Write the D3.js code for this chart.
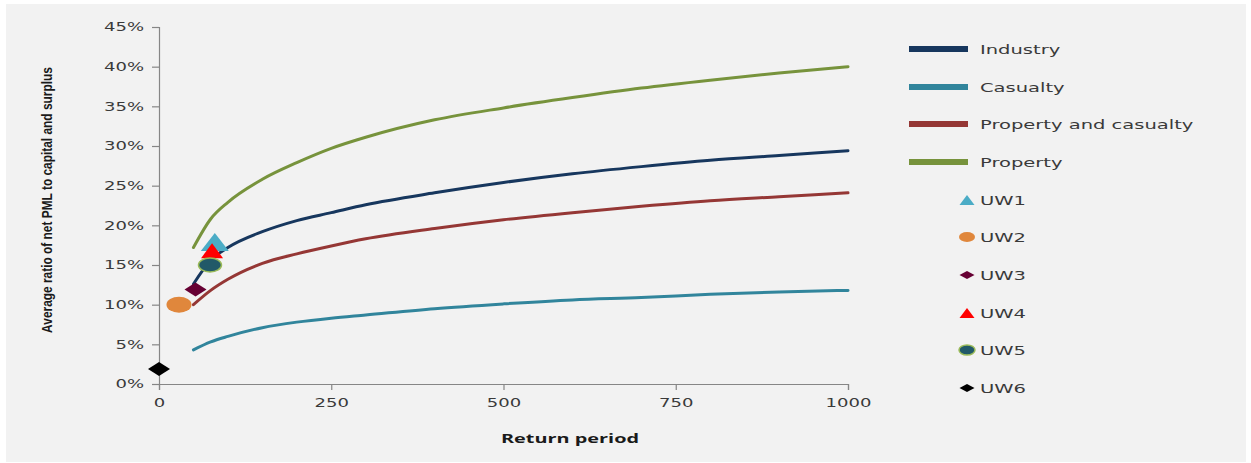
<!DOCTYPE html>
<html>
<head>
<meta charset="utf-8">
<script src="https://cdn.jsdelivr.net/npm/d3@7"></script>
<style>
  html, body { margin: 0; padding: 0; background: #ffffff; }
  svg { display: block; }
</style>
</head>
<body>
<svg id="chart" width="1251" height="463"></svg>
<script>
// ---------- DATA ----------
const returnPeriods = [50, 75, 100, 150, 200, 250, 300, 400, 500, 600, 700, 800, 900, 1000];
const industry      = [12.6, 15.6, 17.2, 19.2, 20.6, 21.6, 22.6, 24.1, 25.4, 26.5, 27.4, 28.2, 28.8, 29.4];
const casualty      = [4.3, 5.3, 6.0, 7.1, 7.8, 8.3, 8.7, 9.5, 10.1, 10.6, 10.9, 11.3, 11.6, 11.8];
const propertyCas   = [10.0, 11.8, 13.2, 15.2, 16.4, 17.4, 18.3, 19.6, 20.7, 21.6, 22.4, 23.1, 23.6, 24.1];
const property      = [17.2, 20.8, 22.9, 25.8, 27.9, 29.7, 31.1, 33.3, 34.8, 36.1, 37.3, 38.3, 39.2, 40.0];

const lineNames  = ["Industry", "Casualty", "Property and casualty", "Property"];
const lineValues = [industry, casualty, propertyCas, property];
const lineColors = ["#17375e", "#31859c", "#953735", "#77933c"];

const uwNames   = ["UW1", "UW2", "UW3", "UW4", "UW5", "UW6"];
const uwPeriods = [81, 29, 53, 77, 74, 0];
const uwValues  = [17.9, 10.0, 11.9, 16.8, 15.0, 1.9];
const uwShapes  = ["triangle", "circle", "diamond", "triangle", "circle", "diamond"];
const uwFills   = ["#4bacc6", "#e0873c", "#660033", "#ff0000", "#215968", "#000000"];
const uwStrokes = ["none", "none", "none", "none", "#9bbb59", "none"];

const yTicks = [0, 5, 10, 15, 20, 25, 30, 35, 40, 45];
const xTicks = [0, 250, 500, 750, 1000];

const xTitle = "Return period";
const yTitle = "Average ratio of net PML to capital and surplus";

// ---------- LAYOUT ----------
const svg = d3.select("#chart");

svg.append("rect").attr("x", 6).attr("y", 4).attr("width", 1240).attr("height", 458)
  .attr("fill", "#f2f2f2");

const x = d3.scaleLinear().domain([0, 1000]).range([159, 848]);
const y = d3.scaleLinear().domain([0, 45]).range([384, 27]);

function stretchText(sel, factor) {
  sel.each(function() {
    const w = this.getComputedTextLength();
    d3.select(this).attr("textLength", w * factor).attr("lengthAdjust", "spacingAndGlyphs");
  });
}

// Axes
const yAxis = d3.axisLeft(y).tickValues(yTicks).tickFormat(d => d + "%").tickSize(7).tickPadding(8);
const gy = svg.append("g").attr("transform", "translate(159,0)").call(yAxis);
const xAxis = d3.axisBottom(x).tickValues(xTicks).tickFormat(d3.format("d")).tickSize(6).tickPadding(8);
const gx = svg.append("g").attr("transform", "translate(0,384)").call(xAxis);

[gy, gx].forEach(g => {
  g.select(".domain").attr("stroke", "#868686").attr("stroke-width", 1.2);
  g.selectAll(".tick line").attr("stroke", "#868686").attr("stroke-width", 1.2);
  g.selectAll(".tick text")
    .attr("fill", "#3a3a3a")
    .style("font-family", "'DejaVu Sans', Verdana, sans-serif")
    .style("font-size", "12px");
});
gx.selectAll(".tick text").attr("dy", "0.35em").attr("y", 19);
stretchText(gy.selectAll(".tick text"), 1.5);
stretchText(gx.selectAll(".tick text"), 1.5);

// Titles
svg.append("text")
  .attr("x", 570).attr("y", 443)
  .attr("text-anchor", "middle")
  .attr("fill", "#1a1a1a")
  .style("font-family", "'Open Sans', 'Liberation Sans', sans-serif")
  .style("font-weight", "bold").style("font-size", "13px")
  .attr("textLength", 138).attr("lengthAdjust", "spacingAndGlyphs")
  .text(xTitle);

const yt = svg.append("text")
  .attr("text-anchor", "middle")
  .attr("fill", "#1a1a1a")
  .style("font-family", "'Liberation Sans Narrow', 'Liberation Sans', sans-serif")
  .style("font-weight", "bold").style("font-size", "15px")
  .text(yTitle);
{
  const w = yt.node().getComputedTextLength();
  const sx = 266 / w;
  yt.attr("transform", `translate(52,200) rotate(-90) scale(${sx.toFixed(4)},1)`);
}

// Lines
const line = d3.line()
  .x((d, i) => x(returnPeriods[i]))
  .y(d => y(d))
  .curve(d3.curveMonotoneX);

lineValues.forEach((vals, k) => {
  svg.append("path")
    .datum(vals)
    .attr("fill", "none")
    .attr("stroke", lineColors[k])
    .attr("stroke-width", 3)
    .attr("stroke-linecap", "round")
    .attr("d", line);
});

// Markers
function markerPath(shape, w, h) {
  if (shape === "triangle") return `M0,${-h/2}L${w/2},${h/2}L${-w/2},${h/2}Z`;
  if (shape === "diamond") return `M0,${-h/2}L${w/2},0L0,${h/2}L${-w/2},0Z`;
  return null;
}
function drawMarker(g, shape, cx, cy, w, h, fill, stroke) {
  if (shape === "circle") {
    g.append("ellipse").attr("cx", cx).attr("cy", cy).attr("rx", w/2).attr("ry", h/2)
      .attr("fill", fill).attr("stroke", stroke).attr("stroke-width", stroke === "none" ? 0 : 1.5);
  } else {
    g.append("path").attr("d", markerPath(shape, w, h))
      .attr("transform", `translate(${cx},${cy})`)
      .attr("fill", fill).attr("stroke", stroke);
  }
}
const plotSizes = [[28, 18], [25, 16], [22, 14], [22, 15], [23, 14], [22, 14]];
const markerG = svg.append("g");
uwNames.forEach((n, i) => {
  const [w, h] = plotSizes[i];
  drawMarker(markerG, uwShapes[i], x(uwPeriods[i]), y(uwValues[i]), w, h, uwFills[i], uwStrokes[i]);
});

// Legend
const legend = svg.append("g");
const rowY = [49, 87, 124, 162, 200, 237, 275, 313, 350, 388];
lineNames.forEach((n, k) => {
  legend.append("line").attr("x1", 909).attr("x2", 968)
    .attr("y1", rowY[k]).attr("y2", rowY[k])
    .attr("stroke", lineColors[k]).attr("stroke-width", 6);
});
const legendSizes = {triangle: [15, 10], circle: [16, 10], diamond: [15, 8]};
uwNames.forEach((n, i) => {
  const [w, h] = legendSizes[uwShapes[i]];
  drawMarker(legend, uwShapes[i], 967, rowY[4 + i], w, h, uwFills[i], uwStrokes[i]);
});
const allNames = lineNames.concat(uwNames);
allNames.forEach((n, k) => {
  legend.append("text")
    .attr("x", 980).attr("y", rowY[k]).attr("dy", "0.35em")
    .attr("fill", "#3a3a3a")
    .style("font-family", "'DejaVu Sans', Verdana, sans-serif")
    .style("font-size", "13px")
    .text(n)
    .call(s => stretchText(s, 1.5));
});
</script>
</body>
</html>
